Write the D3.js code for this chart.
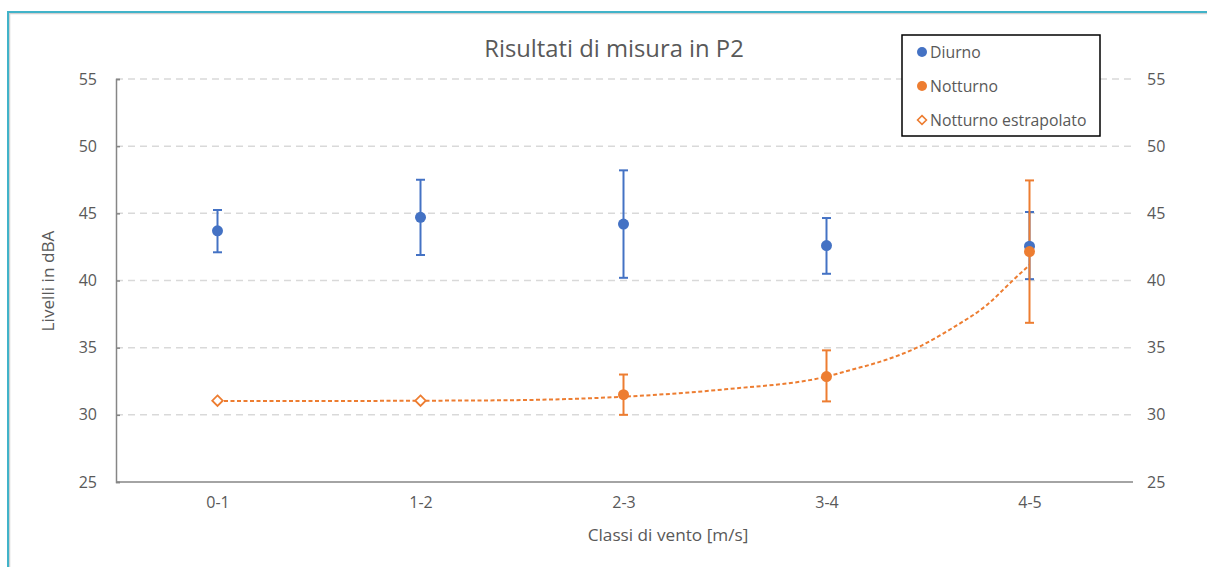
<!DOCTYPE html>
<html><head><meta charset="utf-8">
<script src="https://cdn.jsdelivr.net/npm/d3@7/dist/d3.min.js"></script>
<style>body{margin:0;background:#fff;}svg{display:block;font-family:"Open Sans",Lato,sans-serif;}</style>
</head><body>
<svg id="c" width="1207" height="567"></svg>
<script>
const categories = ["0-1","1-2","2-3","3-4","4-5"];
const yTicks = [25,30,35,40,45,50,55];
// Diurno
const diurno = [43.7, 44.7, 44.2, 42.6, 42.55];
const diurnoHi = [45.25, 47.5, 48.2, 44.65, 45.1];
const diurnoLo = [42.1, 41.9, 40.2, 40.5, 40.1];
// Notturno (measured)
const nottCats = ["2-3","3-4","4-5"];
const notturno = [31.5, 32.85, 42.15];
const notturnoHi = [33.0, 34.8, 47.45];
const notturnoLo = [30.0, 31.0, 36.85];
// Notturno estrapolato
const estrCats = ["0-1","1-2"];
const estrapolato = [31.05, 31.05];
// trendline (x in category index units)
const trendX = [0, 0.5, 1, 1.5, 2, 2.5, 3, 3.12, 3.29, 3.46, 3.62, 3.79, 3.92, 4.0];
const trendY = [31.02, 31.03, 31.05, 31.1, 31.35, 31.9, 32.85, 33.34, 34.08, 35.1, 36.46, 38.18, 40.04, 41.15];

const blue = "#4472C4", orange = "#ED7D31", txt = "#595959";
const FF = "'Open Sans',sans-serif";
const svg = d3.select("#c");
const L = 116, R = 1131, T = 79, B = 482;

// frame
svg.append("rect").attr("x",9.5).attr("y",13.5).attr("width",1300).attr("height",700).attr("fill","none").attr("stroke","#d0d0d0").attr("stroke-width",1.5);
svg.append("rect").attr("x",8).attr("y",12).attr("width",1300).attr("height",700).attr("fill","none").attr("stroke","#41B3C9").attr("stroke-width",2);

const x = d3.scalePoint().domain(categories).range([L, R]).padding(0.5);
const xi = d3.scaleLinear().domain([0, categories.length-1]).range([x(categories[0]), x(categories[categories.length-1])]);
const y = d3.scaleLinear().domain([25,55]).range([B, T]);

// gridlines
svg.append("g").selectAll("line").data(yTicks.filter(d=>d>25)).join("line")
  .attr("x1",L).attr("x2",R+2).attr("y1",d=>y(d)).attr("y2",d=>y(d))
  .attr("stroke","#d9d9d9").attr("stroke-width",1.5).attr("stroke-dasharray","7,5");

// left axis
const gl = svg.append("g").attr("transform",`translate(${L},0)`)
  .call(d3.axisLeft(y).tickValues(yTicks).tickSize(-4).tickPadding(19));
gl.select(".domain").attr("stroke","#868686").attr("stroke-width",1.5);
gl.selectAll(".tick line").attr("stroke","#868686").attr("stroke-width",1.5);
gl.selectAll("text").attr("fill",txt).style("font-size","16px").style("font-family",FF);

// right axis labels
const gr = svg.append("g").attr("transform",`translate(${R},0)`)
  .call(d3.axisRight(y).tickValues(yTicks).tickSize(0).tickPadding(16));
gr.select(".domain").remove();
gr.selectAll("text").attr("fill",txt).style("font-size","16px").style("font-family",FF);

// bottom axis
const gb = svg.append("g").attr("transform",`translate(0,${B})`)
  .call(d3.axisBottom(x).tickSize(0).tickPadding(15));
gb.select(".domain").attr("stroke","#868686").attr("stroke-width",1.5).attr("d",`M${L},0H${R+2}`);
gb.selectAll("text").attr("fill",txt).style("font-size","16px").style("font-family",FF);

// titles
svg.append("text").attr("x",614).attr("y",57).attr("text-anchor","middle").attr("fill",txt)
  .style("font-size","23.8px").text("Risultati di misura in P2");
svg.append("text").attr("x",668).attr("y",541).attr("text-anchor","middle").attr("fill",txt)
  .style("font-size","17.2px").text("Classi di vento [m/s]");
svg.append("text").attr("transform","translate(54,281) rotate(-90)").attr("text-anchor","middle").attr("fill",txt)
  .style("font-size","17.2px").text("Livelli in dBA");

// trendline
const line = d3.line().x((d,i)=>xi(trendX[i])).y(d=>y(d)).curve(d3.curveMonotoneX);
svg.append("path").attr("d",line(trendY)).attr("fill","none").attr("stroke",orange)
  .attr("stroke-width",2).attr("stroke-dasharray","4,2.5");

function errBars(cats, hi, lo, color){
  const g = svg.append("g").attr("stroke",color).attr("stroke-width",2);
  cats.forEach((c,i)=>{
    const cx = x(c);
    g.append("line").attr("x1",cx).attr("x2",cx).attr("y1",y(hi[i])).attr("y2",y(lo[i]));
    g.append("line").attr("x1",cx-4.5).attr("x2",cx+4.5).attr("y1",y(hi[i])).attr("y2",y(hi[i]));
    g.append("line").attr("x1",cx-4.5).attr("x2",cx+4.5).attr("y1",y(lo[i])).attr("y2",y(lo[i]));
  });
}
errBars(categories, diurnoHi, diurnoLo, blue);
errBars(nottCats, notturnoHi, notturnoLo, orange);

// markers
svg.append("g").selectAll("circle").data(diurno).join("circle")
  .attr("cx",(d,i)=>x(categories[i])).attr("cy",d=>y(d)).attr("r",5.5).attr("fill",blue);
svg.append("g").selectAll("circle").data(notturno).join("circle")
  .attr("cx",(d,i)=>x(nottCats[i])).attr("cy",d=>y(d)).attr("r",5.5).attr("fill",orange);
const diamond = d3.symbol().type(d3.symbolDiamond2).size(70);
svg.append("g").selectAll("path").data(estrapolato).join("path")
  .attr("transform",(d,i)=>`translate(${x(estrCats[i])},${y(d)})`).attr("d",diamond)
  .attr("fill","#fff").attr("stroke",orange).attr("stroke-width",1.8);

// legend
const lg = svg.append("g");
lg.append("rect").attr("x",902).attr("y",35).attr("width",198).attr("height",101)
  .attr("fill","#fff").attr("stroke","#000").attr("stroke-width",1.5);
const legItems = [["Diurno","dot",blue],["Notturno","dot",orange],["Notturno estrapolato","diamond",orange]];
legItems.forEach((it,i)=>{
  const cy = 52 + i*34;
  if(it[1]==="dot") lg.append("circle").attr("cx",922).attr("cy",cy).attr("r",5).attr("fill",it[2]);
  else lg.append("path").attr("transform",`translate(922,${cy})`).attr("d",d3.symbol().type(d3.symbolDiamond2).size(50))
    .attr("fill","#fff").attr("stroke",it[2]).attr("stroke-width",1.6);
  lg.append("text").attr("x",930).attr("y",cy+5.5).attr("fill",txt).style("font-size","15.8px").text(it[0]);
});
</script>
</body></html>
